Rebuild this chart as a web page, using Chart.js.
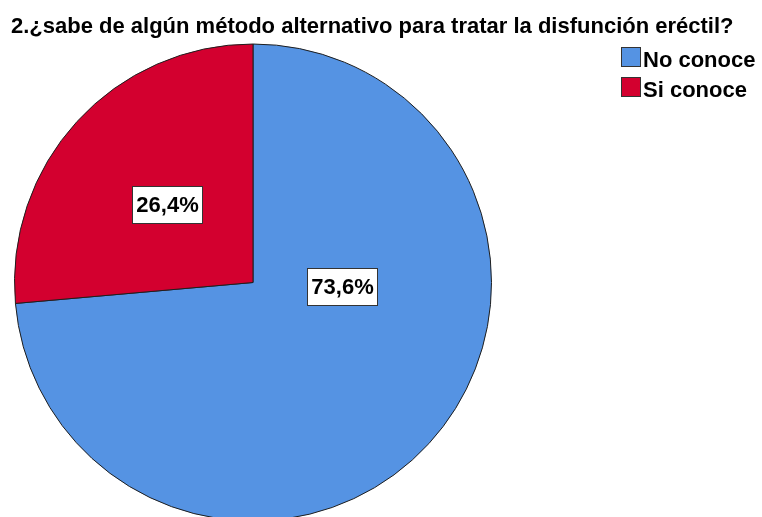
<!DOCTYPE html>
<html><head><meta charset="utf-8">
<script src="https://cdn.jsdelivr.net/npm/chart.js@4"></script>
<style>html,body{margin:0;padding:0;background:#fff;overflow:hidden}</style>
</head><body>
<div style="width:762px;height:530px"><canvas id="c" width="762" height="530"></canvas></div>
<script>
const title = "2.¿sabe de algún método alternativo para tratar la disfunción eréctil?";
const categories = ["No conoce", "Si conoce"];
const values = [73.6, 26.4];
const valueLabels = ["73,6%", "26,4%"];
const colors = ["#5593e3", "#d3002f"];
const labelOffsets = [[0.372, 0.015], [-0.36, -0.328]];
const FONT = "'Liberation Sans', Arial, sans-serif";

const overlay = {
  id: 'overlay',
  afterDraw(chart) {
    const ctx = chart.ctx;
    ctx.save();
    ctx.fillStyle = "#000";
    ctx.textAlign = "left";
    ctx.textBaseline = "alphabetic";
    ctx.font = "bold 22px " + FONT;
    ctx.fillText(title, 11, 33);
    // legend
    ctx.font = "bold 22px " + FONT;
    categories.forEach((c, i) => {
      const y = 47 + i * 30;
      ctx.fillStyle = colors[i];
      ctx.fillRect(621, y, 19, 19);
      ctx.strokeStyle = "#333";
      ctx.lineWidth = 1;
      ctx.strokeRect(621.5, y + 0.5, 19, 19);
      ctx.fillStyle = "#000";
      ctx.fillText(c, 643, y + 20);
    });
    // value labels
    const meta = chart.getDatasetMeta(0);
    ctx.font = "bold 22px " + FONT;
    ctx.textAlign = "center";
    ctx.textBaseline = "middle";
    meta.data.forEach((arc, i) => {
      const x = arc.x + labelOffsets[i][0] * arc.outerRadius;
      const y = arc.y + labelOffsets[i][1] * arc.outerRadius;
      const w = Math.round(ctx.measureText(valueLabels[i]).width + 8);
      const h = 37;
      const bx = Math.round(x - w / 2), by = Math.round(y - h / 2);
      ctx.fillStyle = "#fff";
      ctx.fillRect(bx, by, w, h);
      ctx.strokeStyle = "#333";
      ctx.strokeRect(bx + 0.5, by + 0.5, w, h);
      ctx.fillStyle = "#000";
      ctx.fillText(valueLabels[i], bx + w / 2 + 0.5, by + h / 2 + 1);
    });
    ctx.restore();
  }
};

new Chart(document.getElementById('c'), {
  type: 'pie',
  data: {
    labels: categories,
    datasets: [{
      data: values,
      backgroundColor: colors,
      borderColor: "#1e1e1e",
      borderWidth: 1
    }]
  },
  options: {
    responsive: false,
    animation: false,
    rotation: 0,
    layout: { padding: { left: 14, right: 270, top: 43, bottom: 8 } },
    plugins: { legend: { display: false }, tooltip: { enabled: false }, title: { display: false } }
  },
  plugins: [overlay]
});
</script>
</body></html>
